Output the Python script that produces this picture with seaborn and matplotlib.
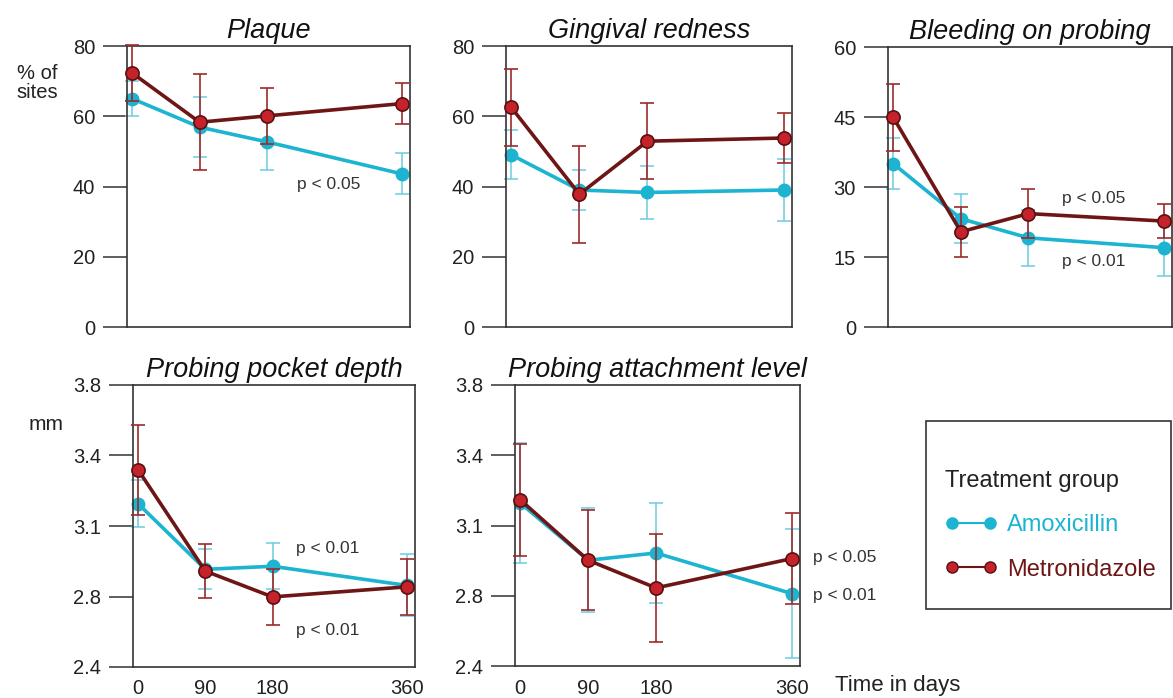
import matplotlib
matplotlib.use("Agg")
import matplotlib.pyplot as plt
import seaborn as sns
import pandas as pd
from matplotlib.lines import Line2D
from matplotlib.patches import Rectangle

days = [0, 90, 180, 360]
day_labels = ["0", "90", "180", "360"]

plaque_amox = [65.0, 56.9, 52.7, 43.6]
plaque_amox_err = [5.0, 8.5, 8.0, 5.8]
plaque_metro = [72.3, 58.3, 60.1, 63.6]
plaque_metro_err = [8.0, 13.6, 8.0, 5.8]

gingival_amox = [49.0, 39.0, 38.3, 39.0]
gingival_amox_err = [7.0, 5.7, 7.5, 8.7]
gingival_metro = [62.5, 37.8, 52.9, 53.8]
gingival_metro_err = [11.0, 13.8, 10.8, 7.0]

bleeding_amox = [35.0, 23.2, 19.1, 17.0]
bleeding_amox_err = [5.4, 5.2, 6.0, 6.0]
bleeding_metro = [44.9, 20.4, 24.3, 22.7]
bleeding_metro_err = [7.2, 5.3, 5.3, 3.6]

ppd_amox = [3.21, 2.885, 2.90, 2.805]
ppd_amox_err = [0.116, 0.10, 0.115, 0.154]
ppd_metro = [3.378, 2.876, 2.748, 2.798]
ppd_metro_err = [0.225, 0.133, 0.14, 0.14]

pal_amox = [3.212, 2.927, 2.963, 2.761]
pal_amox_err = [0.30, 0.26, 0.25, 0.32]
pal_metro = [3.228, 2.927, 2.789, 2.935]
pal_metro_err = [0.28, 0.25, 0.27, 0.225]

pct_ticks = [0, 20, 40, 60, 80]
bop_ticks = [0, 15, 30, 45, 60]
mm_ticks = [2.4, 2.75, 3.1, 3.45, 3.8]
mm_tick_labels = ["2.4", "2.8", "3.1", "3.4", "3.8"]

groups = ["Amoxicillin", "Metronidazole"]

CYAN = "#1cb4d0"
CYAN_ERR = "#6ccbe0"
RED_FACE = "#c4232b"
RED_EDGE = "#5a1010"
RED_LINE = "#6e1616"
RED_ERR = "#9c2b2b"
INK = "#222222"

sns.set_theme(style="white")
plt.rcParams["font.family"] = ["Liberation Sans", "DejaVu Sans"]

fig = plt.figure(figsize=(11.73, 6.98), dpi=100)
W, H = 1173, 698


def add_axes(left, top, right, bottom):
    return fig.add_axes([left / W, 1 - bottom / H, (right - left) / W, (bottom - top) / H])


panels = [
    dict(title="Plaque", box=(127, 46, 410, 327), amox=plaque_amox, amox_err=plaque_amox_err,
         metro=plaque_metro, metro_err=plaque_metro_err, ticks=pct_ticks, labels=None, xlab=False,
         notes=[(220, 40.5, "p < 0.05")]),
    dict(title="Gingival redness", box=(506, 46, 792, 327), amox=gingival_amox, amox_err=gingival_amox_err,
         metro=gingival_metro, metro_err=gingival_metro_err, ticks=pct_ticks, labels=None, xlab=False,
         notes=[]),
    dict(title="Bleeding on probing", box=(888, 47, 1172, 327), amox=bleeding_amox, amox_err=bleeding_amox_err,
         metro=bleeding_metro, metro_err=bleeding_metro_err, ticks=bop_ticks, labels=None, xlab=False,
         notes=[(224, 27.6, "p < 0.05"), (224, 14.1, "p < 0.01")]),
    dict(title="Probing pocket depth", box=(133, 385, 415, 667), amox=ppd_amox, amox_err=ppd_amox_err,
         metro=ppd_metro, metro_err=ppd_metro_err, ticks=mm_ticks, labels=mm_tick_labels, xlab=True,
         notes=[(211, 2.99, "p < 0.01"), (211, 2.58, "p < 0.01")]),
    dict(title="Probing attachment level", box=(515, 385, 800, 666), amox=pal_amox, amox_err=pal_amox_err,
         metro=pal_metro, metro_err=pal_metro_err, ticks=mm_ticks, labels=mm_tick_labels, xlab=True,
         notes=[(388, 2.94, "p < 0.05"), (388, 2.752, "p < 0.01")]),
]

for p in panels:
    ax = add_axes(*p["box"])
    df = pd.DataFrame({
        "day": days * 2,
        "value": p["amox"] + p["metro"],
        "group": [groups[0]] * 4 + [groups[1]] * 4,
    })
    ax.errorbar(days, p["amox"], yerr=p["amox_err"], fmt="none", ecolor=CYAN_ERR,
                elinewidth=1.1, capsize=5, capthick=1.1, zorder=1, clip_on=False)
    sns.lineplot(data=df[df["group"] == groups[0]], x="day", y="value", color=CYAN,
                 marker="o", markersize=9, markeredgecolor=CYAN, markeredgewidth=1,
                 linewidth=2.6, ax=ax, zorder=2, clip_on=False)
    ax.errorbar(days, p["metro"], yerr=p["metro_err"], fmt="none", ecolor=RED_ERR,
                elinewidth=1.2, capsize=5, capthick=1.2, zorder=3, clip_on=False)
    sns.lineplot(data=df[df["group"] == groups[1]], x="day", y="value", color=RED_LINE,
                 marker="o", markersize=9.5, markerfacecolor=RED_FACE, markeredgecolor=RED_EDGE,
                 markeredgewidth=1.2, linewidth=2.6, ax=ax, zorder=4, clip_on=False)

    ax.set_xlim(-7, 371)
    ax.set_ylim(p["ticks"][0], p["ticks"][-1])
    ax.set_yticks(p["ticks"])
    if p["labels"]:
        ax.set_yticklabels(p["labels"])
    ax.set_xticks(days)
    if p["xlab"]:
        ax.set_xticklabels(day_labels)
    else:
        ax.set_xticklabels([])
    ax.tick_params(axis="y", direction="out", length=17, width=1.1, color="#333333",
                   pad=6, labelsize=14.5, labelcolor=INK, left=True)
    ax.tick_params(axis="x", length=0, pad=9, labelsize=14.5, labelcolor=INK)
    ax.set_xlabel("")
    ax.set_ylabel("")
    for s in ax.spines.values():
        s.set_visible(True)
        s.set_color("#333333")
        s.set_linewidth(1.2)
    ax.set_title(p["title"], fontsize=19.5, fontstyle="italic", color="#111111", pad=6)
    for x, y, t in p["notes"]:
        ax.text(x, y, t, fontsize=12.5, color="#333333", ha="left", va="center", clip_on=False)

fig.text(37 / W, 1 - 83 / H, "% of\nsites", fontsize=14.5, color=INK, ha="center", va="center",
         linespacing=1.0)
fig.text(46 / W, 1 - 425 / H, "mm", fontsize=15, color=INK, ha="center", va="center")
fig.text(835 / W, 1 - 686 / H, "Time in days", fontsize=16, color=INK, ha="left", va="center")

# legend box
fig.patches.append(Rectangle((926 / W, 1 - 609 / H), (1171 - 926) / W, (609 - 421) / H,
                             transform=fig.transFigure, fill=False, edgecolor="#333333",
                             linewidth=1.2))
handles = [
    Line2D([0], [0], color=CYAN, lw=1.5, marker="o", ms=8, mfc=CYAN, mec=CYAN),
    Line2D([0], [0], color=RED_LINE, lw=1.5, marker="o", ms=8, mfc=RED_FACE, mec=RED_EDGE),
]
leg = fig.legend(handles, groups, loc="upper left", bbox_to_anchor=(933 / W, 1 - 458 / H),
                 frameon=False, prop={"size": 17}, title="Treatment group",
                 title_fontproperties={"size": 17},
                 numpoints=2, handlelength=2.2, handletextpad=0.45, labelspacing=0.95,
                 borderpad=0, alignment="left")
leg.get_title().set_color(INK)
for txt, c in zip(leg.get_texts(), [CYAN, RED_LINE]):
    txt.set_color(c)

fig.savefig("out.png", dpi=100)
